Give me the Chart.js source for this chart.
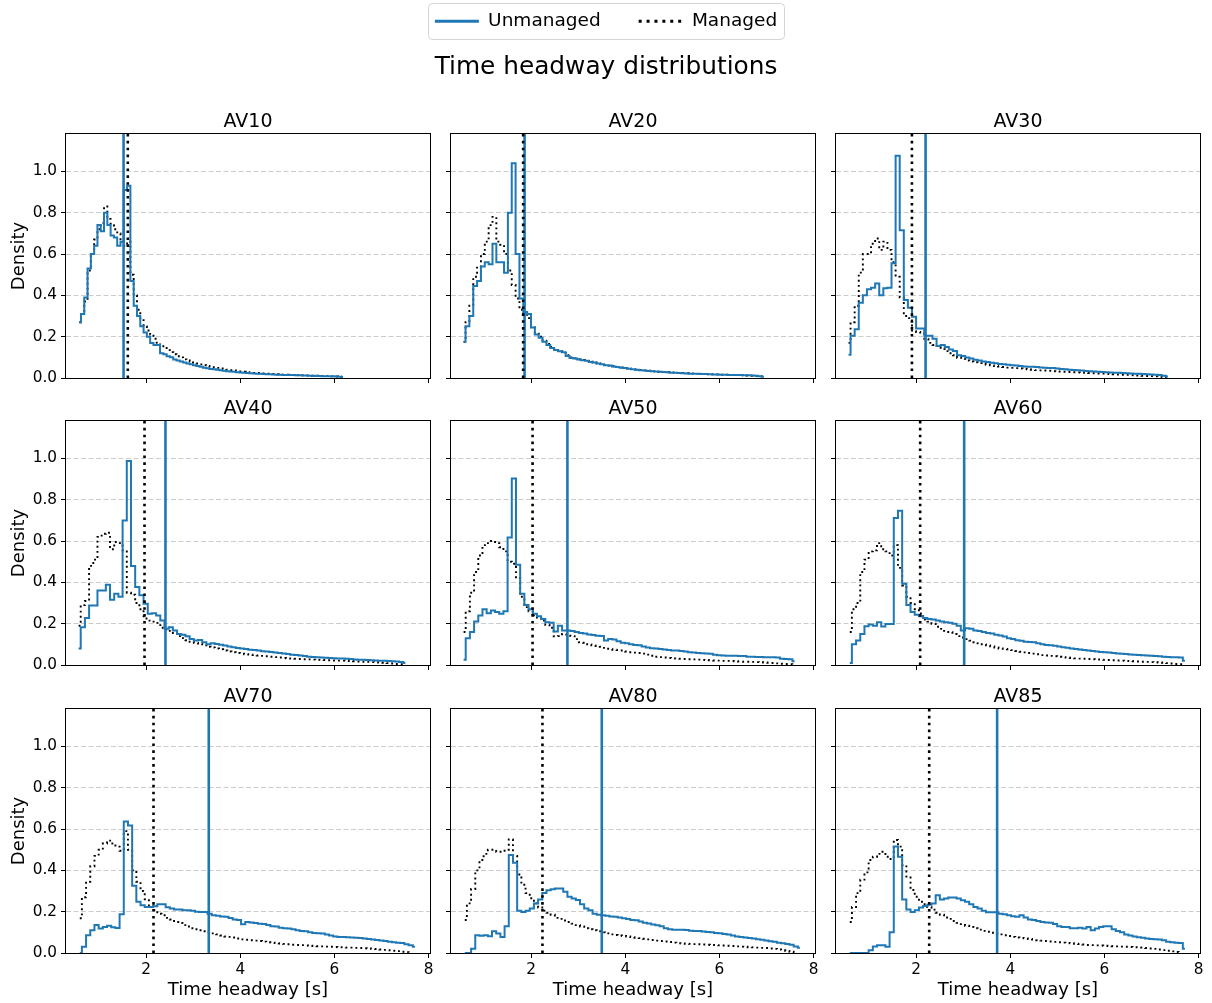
<!DOCTYPE html>
<html>
<head>
<meta charset="utf-8">
<title>Time headway distributions</title>
<script src="https://cdn.jsdelivr.net/npm/chart.js@4.4.1/dist/chart.umd.min.js"></script>
<style>
  html, body { margin: 0; padding: 0; background: #fff; }
  body { position: relative; width: 1212px; height: 1003px; overflow: hidden; }
  canvas { position: absolute; }
</style>
</head>
<body>
<script>
// panels, left to right, top to bottom
const panelNames = ['AV10', 'AV20', 'AV30', 'AV40', 'AV50', 'AV60', 'AV70', 'AV80', 'AV85'];

// histogram bins: centre of the first bin and bin width (s)
const binStart = [0.58, 0.565, 0.563, 0.565, 0.565, 0.59, 0.59, 0.59, 0.59];
const binWidth = [0.07, 0.0818, 0.087, 0.089, 0.089, 0.089, 0.089, 0.089, 0.089];

// mean headway lines (s)
const meanUnmanaged = [1.52, 1.86, 2.20, 2.41, 2.77, 3.02, 3.33, 3.50, 3.72];
const meanManaged = [1.61, 1.83, 1.91, 1.965, 2.03, 2.085, 2.156, 2.24, 2.277];

// densities per bin
const unmanagedAV10 = [0.27, 0.31, 0.39, 0.53, 0.60, 0.64, 0.74, 0.71, 0.80, 0.74, 0.69, 0.68, 0.64, 0.66, 0.91, 0.93, 0.47, 0.35, 0.30, 0.25, 0.22, 0.20, 0.17, 0.16, 0.16, 0.12, 0.115, 0.105, 0.10, 0.09, 0.085, 0.08, 0.075, 0.07, 0.066, 0.062, 0.058, 0.055, 0.05, 0.047, 0.044, 0.042, 0.04, 0.037, 0.035, 0.033, 0.031, 0.03, 0.028, 0.027, 0.025, 0.024, 0.023, 0.022, 0.021, 0.02, 0.019, 0.018, 0.018, 0.017, 0.016, 0.016, 0.015, 0.015, 0.014, 0.014, 0.013, 0.013, 0.012, 0.012, 0.011, 0.011, 0.01, 0.01, 0.009, 0.009, 0.008, 0.008, 0.007, 0.006, 0.005];
const managedAV10 = [0.27, 0.31, 0.37, 0.52, 0.60, 0.67, 0.72, 0.75, 0.83, 0.77, 0.74, 0.72, 0.70, 0.66, 0.64, 0.66, 0.50, 0.40, 0.33, 0.28, 0.25, 0.23, 0.21, 0.19, 0.17, 0.16, 0.145, 0.135, 0.125, 0.115, 0.105, 0.10, 0.09, 0.085, 0.08, 0.075, 0.07, 0.066, 0.062, 0.058, 0.055, 0.052, 0.049, 0.046, 0.043, 0.04, 0.038, 0.036, 0.034, 0.032, 0.03, 0.028, 0.027, 0.025, 0.024, 0.023, 0.022, 0.021, 0.02, 0.019, 0.018, 0.017, 0.016, 0.016, 0.015, 0.014, 0.014, 0.013, 0.013, 0.012, 0.012, 0.011, 0.011, 0.01, 0.01, 0.009, 0.009, 0.008, 0.007, 0.006, 0.005];

const unmanagedAV20 = [0.175, 0.25, 0.30, 0.445, 0.47, 0.54, 0.56, 0.55, 0.65, 0.56, 0.56, 0.51, 0.80, 1.04, 0.60, 0.385, 0.32, 0.31, 0.245, 0.21, 0.195, 0.175, 0.16, 0.145, 0.135, 0.13, 0.125, 0.107, 0.097, 0.094, 0.09, 0.086, 0.083, 0.078, 0.075, 0.07, 0.066, 0.062, 0.06, 0.056, 0.053, 0.05, 0.048, 0.045, 0.042, 0.04, 0.038, 0.036, 0.034, 0.033, 0.031, 0.03, 0.029, 0.028, 0.026, 0.025, 0.024, 0.023, 0.022, 0.021, 0.02, 0.02, 0.019, 0.019, 0.018, 0.017, 0.017, 0.016, 0.016, 0.015, 0.015, 0.014, 0.014, 0.013, 0.013, 0.012, 0.011, 0.009, 0.006];
const managedAV20 = [0.175, 0.27, 0.35, 0.49, 0.54, 0.60, 0.66, 0.74, 0.78, 0.66, 0.645, 0.60, 0.52, 0.45, 0.385, 0.33, 0.31, 0.29, 0.25, 0.215, 0.20, 0.18, 0.165, 0.15, 0.14, 0.135, 0.13, 0.11, 0.10, 0.095, 0.091, 0.087, 0.083, 0.079, 0.075, 0.071, 0.067, 0.063, 0.06, 0.057, 0.054, 0.051, 0.048, 0.045, 0.043, 0.041, 0.039, 0.037, 0.035, 0.033, 0.032, 0.03, 0.029, 0.028, 0.027, 0.026, 0.025, 0.024, 0.023, 0.022, 0.021, 0.02, 0.019, 0.019, 0.018, 0.018, 0.017, 0.016, 0.016, 0.015, 0.015, 0.014, 0.014, 0.013, 0.012, 0.011, 0.01, 0.008, 0.005];

const unmanagedAV30 = [0.113, 0.204, 0.236, 0.364, 0.40, 0.43, 0.437, 0.458, 0.40, 0.434, 0.437, 0.555, 1.076, 0.715, 0.377, 0.34, 0.296, 0.24, 0.24, 0.204, 0.204, 0.19, 0.155, 0.16, 0.15, 0.138, 0.131, 0.11, 0.107, 0.099, 0.094, 0.088, 0.085, 0.08, 0.077, 0.074, 0.071, 0.068, 0.066, 0.064, 0.062, 0.06, 0.058, 0.056, 0.055, 0.054, 0.053, 0.051, 0.05, 0.049, 0.048, 0.046, 0.044, 0.042, 0.04, 0.039, 0.037, 0.036, 0.034, 0.033, 0.031, 0.03, 0.029, 0.028, 0.027, 0.026, 0.025, 0.024, 0.023, 0.022, 0.021, 0.02, 0.019, 0.018, 0.017, 0.016, 0.014, 0.011, 0.007];
const managedAV30 = [0.17, 0.27, 0.35, 0.51, 0.60, 0.60, 0.65, 0.675, 0.62, 0.66, 0.62, 0.56, 0.49, 0.39, 0.30, 0.29, 0.23, 0.223, 0.22, 0.19, 0.17, 0.16, 0.155, 0.14, 0.13, 0.12, 0.11, 0.098, 0.092, 0.085, 0.08, 0.076, 0.072, 0.068, 0.064, 0.061, 0.058, 0.055, 0.053, 0.05, 0.049, 0.048, 0.046, 0.044, 0.042, 0.04, 0.038, 0.037, 0.036, 0.035, 0.033, 0.032, 0.031, 0.03, 0.029, 0.028, 0.027, 0.026, 0.025, 0.024, 0.023, 0.022, 0.021, 0.02, 0.019, 0.018, 0.017, 0.016, 0.015, 0.014, 0.013, 0.012, 0.011, 0.01, 0.009, 0.008, 0.006, 0.004, 0.002];

const unmanagedAV40 = [0.08, 0.183, 0.228, 0.288, 0.288, 0.36, 0.36, 0.388, 0.316, 0.345, 0.33, 0.70, 0.987, 0.479, 0.377, 0.337, 0.296, 0.248, 0.25, 0.24, 0.215, 0.175, 0.183, 0.167, 0.15, 0.146, 0.139, 0.126, 0.118, 0.121, 0.11, 0.10, 0.105, 0.102, 0.098, 0.094, 0.09, 0.086, 0.082, 0.08, 0.077, 0.074, 0.072, 0.07, 0.067, 0.065, 0.063, 0.061, 0.058, 0.056, 0.053, 0.05, 0.048, 0.046, 0.043, 0.04, 0.039, 0.038, 0.036, 0.035, 0.034, 0.033, 0.032, 0.031, 0.03, 0.029, 0.027, 0.026, 0.025, 0.024, 0.023, 0.022, 0.021, 0.02, 0.019, 0.018, 0.017, 0.015, 0.01];
const managedAV40 = [0.19, 0.29, 0.31, 0.48, 0.51, 0.62, 0.635, 0.64, 0.56, 0.595, 0.59, 0.555, 0.35, 0.34, 0.30, 0.27, 0.225, 0.215, 0.21, 0.204, 0.18, 0.172, 0.165, 0.155, 0.14, 0.13, 0.12, 0.112, 0.107, 0.104, 0.095, 0.088, 0.085, 0.08, 0.076, 0.07, 0.065, 0.062, 0.058, 0.055, 0.052, 0.05, 0.048, 0.046, 0.044, 0.042, 0.04, 0.038, 0.036, 0.034, 0.032, 0.031, 0.03, 0.029, 0.028, 0.027, 0.026, 0.025, 0.025, 0.024, 0.023, 0.022, 0.021, 0.021, 0.02, 0.019, 0.018, 0.017, 0.016, 0.015, 0.014, 0.013, 0.012, 0.011, 0.009, 0.007, 0.005, 0.004, 0.003];

const unmanagedAV50 = [0.026, 0.13, 0.16, 0.21, 0.24, 0.27, 0.25, 0.264, 0.256, 0.248, 0.26, 0.617, 0.903, 0.485, 0.345, 0.29, 0.27, 0.248, 0.236, 0.223, 0.207, 0.204, 0.162, 0.19, 0.167, 0.167, 0.165, 0.16, 0.155, 0.152, 0.148, 0.145, 0.142, 0.14, 0.118, 0.126, 0.124, 0.115, 0.108, 0.105, 0.1, 0.097, 0.095, 0.09, 0.085, 0.081, 0.08, 0.078, 0.075, 0.072, 0.07, 0.07, 0.068, 0.065, 0.062, 0.06, 0.058, 0.057, 0.056, 0.055, 0.05, 0.047, 0.046, 0.045, 0.045, 0.045, 0.044, 0.043, 0.04, 0.04, 0.039, 0.039, 0.038, 0.038, 0.037, 0.036, 0.03, 0.029, 0.028, 0.018];
const managedAV50 = [0.16, 0.26, 0.35, 0.45, 0.53, 0.58, 0.59, 0.60, 0.59, 0.57, 0.55, 0.50, 0.49, 0.42, 0.33, 0.28, 0.26, 0.24, 0.23, 0.215, 0.195, 0.18, 0.139, 0.14, 0.15, 0.142, 0.14, 0.125, 0.11, 0.108, 0.1, 0.095, 0.092, 0.088, 0.083, 0.078, 0.074, 0.072, 0.07, 0.065, 0.062, 0.06, 0.058, 0.055, 0.05, 0.045, 0.04, 0.038, 0.036, 0.034, 0.032, 0.031, 0.03, 0.029, 0.028, 0.027, 0.026, 0.025, 0.024, 0.023, 0.022, 0.021, 0.02, 0.02, 0.019, 0.018, 0.017, 0.016, 0.016, 0.015, 0.014, 0.013, 0.012, 0.011, 0.01, 0.008, 0.006, 0.005, 0.004, 0.003];

const unmanagedAV60 = [0.01, 0.10, 0.118, 0.15, 0.188, 0.196, 0.19, 0.207, 0.186, 0.199, 0.199, 0.712, 0.746, 0.393, 0.291, 0.256, 0.243, 0.236, 0.227, 0.223, 0.22, 0.215, 0.21, 0.207, 0.204, 0.2, 0.19, 0.167, 0.178, 0.175, 0.167, 0.165, 0.16, 0.155, 0.152, 0.146, 0.143, 0.138, 0.13, 0.126, 0.12, 0.117, 0.113, 0.111, 0.11, 0.105, 0.1, 0.097, 0.095, 0.093, 0.09, 0.086, 0.083, 0.08, 0.077, 0.075, 0.072, 0.07, 0.068, 0.065, 0.063, 0.062, 0.06, 0.058, 0.056, 0.055, 0.053, 0.051, 0.05, 0.048, 0.047, 0.046, 0.045, 0.044, 0.042, 0.04, 0.039, 0.038, 0.037, 0.036, 0.02];
const managedAV60 = [0.16, 0.27, 0.30, 0.45, 0.51, 0.55, 0.555, 0.59, 0.56, 0.55, 0.53, 0.58, 0.47, 0.385, 0.33, 0.30, 0.27, 0.25, 0.22, 0.21, 0.2, 0.185, 0.175, 0.165, 0.16, 0.15, 0.14, 0.133, 0.125, 0.118, 0.11, 0.105, 0.1, 0.095, 0.09, 0.085, 0.08, 0.078, 0.076, 0.072, 0.068, 0.064, 0.061, 0.058, 0.055, 0.052, 0.048, 0.046, 0.044, 0.042, 0.04, 0.038, 0.036, 0.034, 0.032, 0.031, 0.03, 0.029, 0.028, 0.027, 0.026, 0.025, 0.024, 0.023, 0.022, 0.021, 0.02, 0.019, 0.018, 0.017, 0.016, 0.015, 0.014, 0.013, 0.012, 0.011, 0.009, 0.007, 0.005, 0.004, 0.003];

const unmanagedAV70 = [0.0, 0.03, 0.086, 0.11, 0.135, 0.118, 0.126, 0.132, 0.125, 0.121, 0.188, 0.636, 0.617, 0.325, 0.248, 0.231, 0.223, 0.223, 0.226, 0.236, 0.236, 0.221, 0.215, 0.21, 0.21, 0.207, 0.207, 0.205, 0.2, 0.199, 0.199, 0.19, 0.183, 0.18, 0.177, 0.175, 0.17, 0.162, 0.16, 0.139, 0.15, 0.148, 0.145, 0.142, 0.14, 0.135, 0.13, 0.128, 0.122, 0.12, 0.118, 0.115, 0.11, 0.107, 0.105, 0.1, 0.097, 0.095, 0.094, 0.09, 0.085, 0.08, 0.078, 0.077, 0.076, 0.075, 0.074, 0.073, 0.07, 0.068, 0.065, 0.063, 0.06, 0.058, 0.055, 0.052, 0.05, 0.049, 0.042, 0.037, 0.03];
const managedAV70 = [0.168, 0.27, 0.345, 0.42, 0.47, 0.50, 0.53, 0.544, 0.53, 0.515, 0.495, 0.59, 0.50, 0.40, 0.345, 0.30, 0.26, 0.23, 0.207, 0.19, 0.183, 0.17, 0.162, 0.15, 0.145, 0.135, 0.128, 0.12, 0.115, 0.11, 0.105, 0.1, 0.095, 0.09, 0.085, 0.08, 0.078, 0.075, 0.07, 0.066, 0.064, 0.062, 0.06, 0.058, 0.055, 0.052, 0.05, 0.048, 0.046, 0.044, 0.042, 0.04, 0.039, 0.038, 0.037, 0.035, 0.034, 0.033, 0.032, 0.031, 0.03, 0.029, 0.028, 0.027, 0.026, 0.026, 0.025, 0.024, 0.023, 0.022, 0.02, 0.019, 0.017, 0.015, 0.013, 0.011, 0.009, 0.006, 0.004, 0.002];

const unmanagedAV80 = [0.0, 0.0, 0.02, 0.086, 0.083, 0.086, 0.081, 0.105, 0.094, 0.078, 0.13, 0.474, 0.437, 0.204, 0.199, 0.204, 0.215, 0.24, 0.259, 0.291, 0.304, 0.309, 0.312, 0.312, 0.296, 0.272, 0.264, 0.256, 0.236, 0.215, 0.207, 0.19, 0.185, 0.183, 0.18, 0.177, 0.175, 0.172, 0.168, 0.165, 0.16, 0.158, 0.152, 0.147, 0.143, 0.138, 0.134, 0.13, 0.12, 0.115, 0.112, 0.112, 0.113, 0.111, 0.108, 0.107, 0.106, 0.104, 0.102, 0.1, 0.097, 0.095, 0.092, 0.09, 0.085, 0.08, 0.078, 0.075, 0.073, 0.07, 0.066, 0.064, 0.06, 0.057, 0.054, 0.05, 0.047, 0.044, 0.04, 0.032, 0.025];
const managedAV80 = [0.16, 0.24, 0.31, 0.40, 0.45, 0.48, 0.50, 0.50, 0.49, 0.49, 0.50, 0.55, 0.47, 0.38, 0.33, 0.29, 0.265, 0.24, 0.22, 0.205, 0.195, 0.185, 0.17, 0.165, 0.157, 0.15, 0.142, 0.135, 0.128, 0.12, 0.115, 0.11, 0.105, 0.1, 0.095, 0.09, 0.087, 0.085, 0.082, 0.08, 0.077, 0.074, 0.072, 0.069, 0.066, 0.063, 0.06, 0.058, 0.056, 0.053, 0.05, 0.048, 0.046, 0.045, 0.044, 0.043, 0.042, 0.041, 0.04, 0.039, 0.038, 0.037, 0.036, 0.035, 0.034, 0.032, 0.031, 0.03, 0.028, 0.027, 0.026, 0.025, 0.024, 0.022, 0.02, 0.017, 0.013, 0.01, 0.006, 0.003];

const unmanagedAV85 = [0.0, 0.0, 0.0, 0.0, 0.0, 0.013, 0.032, 0.037, 0.037, 0.03, 0.10, 0.515, 0.466, 0.259, 0.21, 0.199, 0.207, 0.22, 0.227, 0.233, 0.24, 0.28, 0.259, 0.264, 0.269, 0.269, 0.264, 0.255, 0.248, 0.236, 0.223, 0.215, 0.205, 0.197, 0.197, 0.197, 0.19, 0.188, 0.183, 0.178, 0.175, 0.183, 0.172, 0.162, 0.16, 0.155, 0.15, 0.148, 0.146, 0.14, 0.13, 0.126, 0.126, 0.12, 0.12, 0.122, 0.118, 0.126, 0.11, 0.118, 0.126, 0.13, 0.13, 0.115, 0.107, 0.1, 0.09, 0.085, 0.08, 0.076, 0.074, 0.07, 0.068, 0.066, 0.065, 0.062, 0.055, 0.052, 0.05, 0.049, 0.02];
const managedAV85 = [0.15, 0.223, 0.29, 0.355, 0.39, 0.45, 0.466, 0.48, 0.49, 0.466, 0.455, 0.547, 0.515, 0.425, 0.37, 0.305, 0.272, 0.248, 0.236, 0.222, 0.21, 0.195, 0.185, 0.172, 0.165, 0.155, 0.146, 0.14, 0.132, 0.126, 0.12, 0.113, 0.107, 0.103, 0.098, 0.094, 0.09, 0.086, 0.082, 0.078, 0.075, 0.073, 0.071, 0.068, 0.065, 0.062, 0.06, 0.058, 0.056, 0.054, 0.052, 0.05, 0.049, 0.047, 0.045, 0.043, 0.041, 0.039, 0.038, 0.037, 0.036, 0.035, 0.034, 0.033, 0.032, 0.031, 0.03, 0.029, 0.028, 0.027, 0.026, 0.024, 0.022, 0.02, 0.017, 0.014, 0.011, 0.008, 0.005, 0.003];

// axes
const xRange = [0.297, 8.03];
const yRange = [0, 1.181];
const xTickValues = [2, 4, 6, 8];
const yTickValues = [0, 0.2, 0.4, 0.6, 0.8, 1.0];

const unmanagedSeries = [unmanagedAV10, unmanagedAV20, unmanagedAV30, unmanagedAV40, unmanagedAV50, unmanagedAV60, unmanagedAV70, unmanagedAV80, unmanagedAV85];
const managedSeries = [managedAV10, managedAV20, managedAV30, managedAV40, managedAV50, managedAV60, managedAV70, managedAV80, managedAV85];

const BLUE = '#1f77b4';
Chart.defaults.font.family = "'DejaVu Sans', 'Liberation Sans', sans-serif";
Chart.defaults.color = '#000';

// figure geometry (px)
const plotLeft = [66, 451, 836];
const plotTop = [134, 421, 709];
const plotW = 364, plotH = 244;
const titleBand = 24, rightPad = 14;

function makeCanvas(left, top, width, height) {
  const cv = document.createElement('canvas');
  cv.width = width;
  cv.height = height;
  cv.style.left = left + 'px';
  cv.style.top = top + 'px';
  cv.style.width = width + 'px';
  cv.style.height = height + 'px';
  document.body.appendChild(cv);
  return cv;
}

const toPoints = (values, start, width) => values.map((v, i) => ({ x: start + i * width, y: v }));

// box round the plot area, like matplotlib spines
const spines = {
  id: 'spines',
  afterDraw(chart) {
    const { ctx, chartArea: a } = chart;
    ctx.save();
    ctx.setLineDash([]);
    ctx.strokeStyle = '#000';
    ctx.lineWidth = 1;
    ctx.strokeRect(a.left - 0.5, a.top - 0.5, a.right - a.left + 1, a.bottom - a.top + 1);
    ctx.restore();
  },
};

// rounded frame round the figure legend
const legendFrame = {
  id: 'legendFrame',
  afterDraw(chart) {
    const boxes = chart.legend.legendHitBoxes;
    if (!boxes || !boxes.length) return;
    const first = boxes[0], last = boxes[boxes.length - 1];
    const cy = first.top + first.height / 2;
    const x0 = Math.round(first.left - 7), x1 = Math.round(last.left + last.width + 7);
    const ctx = chart.ctx;
    ctx.save();
    ctx.strokeStyle = '#d4d4d4';
    ctx.lineWidth = 1;
    ctx.beginPath();
    ctx.roundRect(x0 + 0.5, Math.round(cy - 18) + 0.5, x1 - x0, 36, 4);
    ctx.stroke();
    ctx.restore();
  },
};

// header: legend + suptitle
new Chart(makeCanvas(0, -26, 1212, 130), {
  type: 'line',
  data: {
    datasets: [
      { label: 'Unmanaged', data: [], borderColor: BLUE, backgroundColor: BLUE, borderWidth: 3 },
      { label: 'Managed', data: [], borderColor: '#000', backgroundColor: '#000', borderWidth: 3, borderDash: [3, 4.9] },
    ],
  },
  options: {
    responsive: false,
    animation: false,
    events: [],
    layout: { padding: 0 },
    scales: { x: { display: false }, y: { display: false } },
    plugins: {
      tooltip: { enabled: false },
      legend: {
        display: true,
        position: 'top',
        labels: {
          usePointStyle: true,
          pointStyle: 'line',
          pointStyleWidth: 44,
          padding: 38,
          color: '#000',
          font: { size: 18.5 },
          generateLabels: (chart) => chart.data.datasets.map((ds, i) => ({
            text: ds.label,
            datasetIndex: i,
            hidden: false,
            fillStyle: ds.borderColor,
            strokeStyle: ds.borderColor,
            fontColor: '#000',
            lineWidth: ds.borderWidth,
            lineDash: ds.borderDash || [],
            lineCap: 'butt',
            pointStyle: 'line',
          })),
        },
      },
      title: {
        display: true,
        text: 'Time headway distributions',
        color: '#000',
        weight: 500,
        font: { size: 24.8, weight: 'normal' },
        padding: { top: 14, bottom: 0 },
      },
    },
  },
  plugins: [legendFrame],
});

// the nine panels
panelNames.forEach((name, p) => {
  const col = p % 3, row = Math.floor(p / 3);
  const yw = col === 0 ? 66 : 10;
  const xh = row === 2 ? 50 : 10;
  const cv = makeCanvas(plotLeft[col] - yw, plotTop[row] - titleBand, yw + plotW + rightPad, titleBand + plotH + xh);

  const mu = meanUnmanaged[p], mm = meanManaged[p];

  new Chart(cv, {
    type: 'line',
    data: {
      datasets: [
        {
          label: 'Managed mean',
          data: [{ x: mm, y: yRange[0] }, { x: mm, y: yRange[1] }],
          borderColor: '#000',
          borderWidth: 2.6,
          borderDash: [2.6, 4.3],
        },
        {
          label: 'Unmanaged mean',
          data: [{ x: mu, y: yRange[0] }, { x: mu, y: yRange[1] }],
          borderColor: BLUE,
          borderWidth: 2.6,
        },
        {
          label: 'Unmanaged',
          data: toPoints(unmanagedSeries[p], binStart[p], binWidth[p]),
          borderColor: BLUE,
          borderWidth: 2,
          stepped: 'middle',
        },
        {
          label: 'Managed',
          data: toPoints(managedSeries[p], binStart[p], binWidth[p]),
          borderColor: '#000',
          borderWidth: 1.9,
          borderDash: [1.9, 3.2],
          stepped: 'middle',
        },
      ],
    },
    options: {
      responsive: false,
      animation: false,
      events: [],
      layout: { padding: { left: 0, top: 0, right: rightPad, bottom: 0 } },
      elements: { point: { radius: 0 }, line: { tension: 0, fill: false } },
      scales: {
        x: {
          type: 'linear',
          min: xRange[0],
          max: xRange[1],
          afterBuildTicks: (s) => { s.ticks = xTickValues.map((v) => ({ value: v })); },
          afterFit: (s) => { s.height = xh; s.paddingLeft = 0; s.paddingRight = 0; },
          grid: { drawOnChartArea: false, tickLength: 5, tickColor: '#000', tickWidth: 1 },
          border: { display: false },
          ticks: { display: row === 2, padding: 3, autoSkip: false, maxRotation: 0, color: '#000', font: { size: 15.3 } },
          title: { display: row === 2, text: 'Time headway [s]', color: '#000', font: { size: 18 }, padding: { top: 0, bottom: 2 } },
        },
        y: {
          type: 'linear',
          min: yRange[0],
          max: yRange[1],
          afterBuildTicks: (s) => { s.ticks = yTickValues.map((v) => ({ value: v })); },
          afterFit: (s) => { s.width = yw; s.paddingTop = 0; s.paddingBottom = 0; },
          grid: { color: '#cccccc', lineWidth: 1, tickLength: 5, tickColor: '#000', tickWidth: 1 },
          border: { display: false, dash: [5, 2.5] },
          ticks: { display: col === 0, padding: 4, color: '#000', font: { size: 15.3 }, callback: (v) => v.toFixed(1) },
          title: { display: col === 0, text: 'Density', color: '#000', font: { size: 18 }, padding: { top: 9, bottom: 0 } },
        },
      },
      plugins: {
        legend: { display: false },
        tooltip: { enabled: false },
        title: {
          display: true,
          text: name,
          fullSize: false,
          color: '#000',
          font: { size: 19, weight: 'normal', lineHeight: '24px' },
          padding: { top: 0, bottom: 0 },
        },
      },
    },
    plugins: [spines],
  });
});
</script>
</body>
</html>
